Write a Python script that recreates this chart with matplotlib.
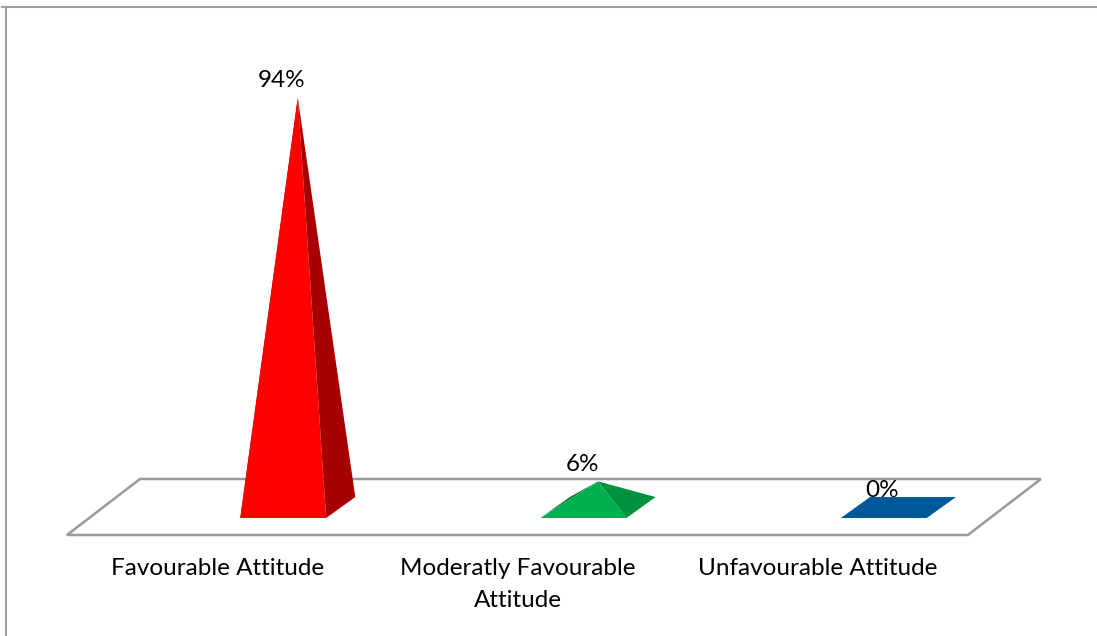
import matplotlib.pyplot as plt
from matplotlib.patches import Polygon
from matplotlib.lines import Line2D

plt.rcParams['font.family'] = ['Lato', 'DejaVu Sans']

# data
categories = ["Favourable Attitude", "Moderatly Favourable\nAttitude", "Unfavourable Attitude"]
values = [94, 6, 0]
front_colors = ["#FF0000", "#00B050", "#00589A"]
side_colors = ["#A80000", "#00923F", "#00589A"]
left_colors = ["#8A0000", "#007A35", "#00589A"]

# layout (pixels)
W, H = 1097, 636
px_cat = 300.3      # pixels per category
px_pct = 4.36       # pixels per percent
floor_x0 = 67       # front-left corner of floor
floor_y0 = 535      # front edge of floor

# depth of floor, in data units
depth_dx = 73 / px_cat
depth_dy = 56 / px_pct

fig = plt.figure(figsize=(W / 100, H / 100), dpi=100)
ax = fig.add_axes([0, 0, 1, 1])
ax.set_xlim(-0.5 - floor_x0 / px_cat, -0.5 + (W - floor_x0) / px_cat)
ax.set_ylim(-(H - floor_y0) / px_pct, floor_y0 / px_pct)
ax.axis('off')

# floor
n = len(categories)
floor = Polygon([(-0.5, 0), (n - 0.5, 0), (n - 0.5 + depth_dx, depth_dy), (-0.5 + depth_dx, depth_dy)],
                closed=True, facecolor='white', edgecolor='#9A9A9A', lw=1.8, zorder=1)
ax.add_patch(floor)

# pyramids
shift = 0.22          # front edge centre relative to category
half_w = 0.143
base_front = 3.9
base_back = 8.7
back_dx = 0.097
for i, (v, fc, sc, lc) in enumerate(zip(values, front_colors, side_colors, left_colors)):
    cx = i + shift
    fl = (cx - half_w, base_front)
    fr = (cx + half_w, base_front)
    br = (cx + half_w + back_dx, base_back)
    bl = (cx - half_w + back_dx, base_back)
    centre = (cx + back_dx / 2, (base_front + base_back) / 2)
    apex = (centre[0], centre[1] + v)
    if v > 0:
        ax.add_patch(Polygon([fl, bl, apex], closed=True, facecolor=lc, edgecolor='none', zorder=2))
        ax.add_patch(Polygon([fl, fr, apex], closed=True, facecolor=fc, edgecolor='none', zorder=3))
        ax.add_patch(Polygon([fr, br, apex], closed=True, facecolor=sc, edgecolor='none', zorder=4))
    else:
        ax.add_patch(Polygon([fl, fr, br, bl], closed=True, facecolor=fc, edgecolor='none', zorder=2))
    ax.annotate(f"{v}%", xy=apex, xytext=(-16, 17), textcoords='offset pixels',
                ha='center', va='center', fontsize=17.5, color='black', zorder=5)

# category labels
for i, cat in enumerate(categories):
    ax.annotate(cat, xy=(i, 0), xytext=(0, -23), textcoords='offset pixels',
                ha='center', va='top', fontsize=17.5, linespacing=1.62, color='black')

# chart border
fig.add_artist(Line2D([2 / W, 1], [1 - 6.5 / H, 1 - 6.5 / H], color='#A0A0A0', lw=1.5))
fig.add_artist(Line2D([5.5 / W, 5.5 / W], [0, 1 - 6.5 / H], color='#A0A0A0', lw=1.5))

fig.savefig('out.png', dpi=100)
